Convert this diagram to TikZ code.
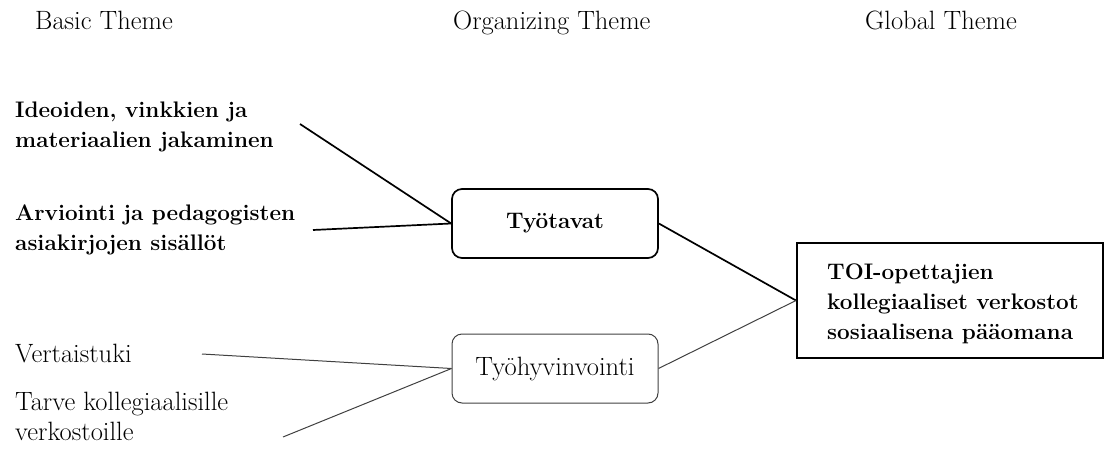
\documentclass[tikz,border=0pt]{standalone}
\begin{document}
\begin{tikzpicture}[x=1pt,y=-1pt,
  every node/.style={inner sep=0pt, text=black, font=\fontsize{26.5}{30}\selectfont},
  lbl/.style={anchor=base west, align=left},
  bfont/.style={font=\fontsize{22.5}{30}\selectfont\bfseries},
  blbl/.style={lbl, bfont},
  orgbox/.style={draw, rounded corners=10pt, minimum width=206pt, minimum height=69pt},
  strong/.style={line width=1.7pt, draw=black},
  weak/.style={line width=1pt, draw=black!75},
  globbox/.style={draw, line width=2pt, minimum width=306pt, minimum height=115pt}]
\useasboundingbox (0,0) rectangle (1105,463);

% column headings
\node[lbl] (hbasic) at (35,29) {Basic Theme};
\node[lbl] (horg) at (453,29) {Organizing Theme};
\node[lbl] (hglob) at (865,29) {Global Theme};

% basic themes (anchored at the baseline of their last line)
\node[blbl] (ideo) at (15,147) {Ideoiden, vinkkien ja\\materiaalien jakaminen};
\node[blbl] (arv) at (15,250) {Arviointi ja pedagogisten\\asiakirjojen sisällöt};
\node[lbl] (vert) at (15,362) {Vertaistuki};
\node[lbl] (tarve) at (15,440) {Tarve kollegiaalisille\\verkostoille};

% organizing themes
\node[orgbox, strong, bfont] (tyot) at (555,223.5) {Työtavat};
\node[orgbox, weak] (tyoh) at (555,368.5) {Työhyvinvointi};

% global theme
\node[globbox] (glob) at (950,300.5) {};
\node[blbl] (globtxt) at (827,339) {TOI-opettajien\\kollegiaaliset verkostot\\sosiaalisena pääomana};

% free ends of the connectors
\coordinate (ideoend) at (300,124);
\coordinate (arvend) at (313,230);
\coordinate (vertend) at (202,354);
\coordinate (tarveend) at (283,437);

% connectors
\draw[strong] (ideoend) -- (tyot.west);
\draw[strong] (arvend) -- (tyot.west);
\draw[strong] (tyot.east) -- (glob.west);
\draw[weak] (tyoh.east) -- (glob.west);
\draw[weak] (vertend) -- (tyoh.west);
\draw[weak] (tarveend) -- (tyoh.west);
\end{tikzpicture}
\end{document}
